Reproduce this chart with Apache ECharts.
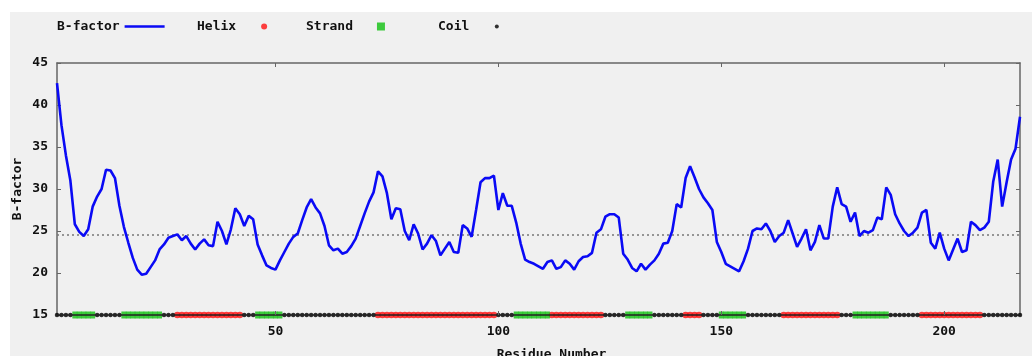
<!DOCTYPE html>
<html>
<head>
<meta charset="utf-8">
<script src="https://cdn.jsdelivr.net/npm/echarts@6/dist/echarts.min.js"></script>
<style>
  html, body { margin: 0; padding: 0; background: #ffffff; }
  #panel { position: absolute; left: 10px; top: 12px; right: 0; bottom: 0; background: #f0f0f0; }
  #chart { position: absolute; left: 0; top: 0; width: 1032px; height: 356px; }
</style>
</head>
<body>
<div id="panel"></div>
<div id="chart"></div>
<script>
// Per-residue B-factor profile (residues 1..217)
const bFactor = [
  42.6, 37.6, 34.0, 31.0, 25.8, 24.9, 24.4, 25.2, 27.9, 29.1,
  30.0, 32.3, 32.2, 31.3, 28.0, 25.5, 23.6, 21.8, 20.4, 19.8,
  19.9, 20.7, 21.5, 22.8, 23.4, 24.2, 24.4, 24.6, 23.9, 24.4,
  23.5, 22.8, 23.5, 24.0, 23.3, 23.2, 26.1, 25.0, 23.4, 25.2,
  27.7, 27.0, 25.6, 26.8, 26.4, 23.4, 22.1, 20.9, 20.6, 20.4,
  21.5, 22.5, 23.5, 24.3, 24.7, 26.3, 27.8, 28.8, 27.8, 27.1,
  25.6, 23.3, 22.7, 22.9, 22.3, 22.5, 23.2, 24.1, 25.6, 27.1,
  28.5, 29.6, 32.1, 31.5, 29.5, 26.4, 27.7, 27.6, 25.0, 23.9,
  25.8, 24.7, 22.8, 23.5, 24.5, 23.8, 22.1, 22.9, 23.7, 22.5,
  22.4, 25.7, 25.3, 24.3, 27.5, 30.8, 31.3, 31.3, 31.6, 27.5,
  29.5, 28.0, 28.0, 26.0, 23.5, 21.6, 21.3, 21.1, 20.8, 20.5,
  21.3, 21.5, 20.5, 20.7, 21.5, 21.1, 20.4, 21.4, 21.9, 22.0,
  22.4, 24.8, 25.2, 26.7, 27.0, 27.0, 26.6, 22.3, 21.6, 20.6,
  20.2, 21.1, 20.4, 21.0, 21.5, 22.3, 23.5, 23.6, 25.0, 28.2,
  27.8, 31.3, 32.7, 31.4, 30.0, 29.0, 28.3, 27.5, 23.7, 22.5,
  21.1, 20.8, 20.5, 20.2, 21.4, 22.9, 25.0, 25.3, 25.2, 25.9,
  25.0, 23.7, 24.4, 24.8, 26.3, 24.7, 23.1, 24.1, 25.2, 22.7,
  23.7, 25.7, 24.1, 24.1, 27.9, 30.2, 28.2, 27.9, 26.1, 27.2,
  24.4, 25.0, 24.8, 25.1, 26.6, 26.4, 30.2, 29.3, 27.0, 25.9,
  25.0, 24.4, 24.8, 25.4, 27.2, 27.5, 23.6, 22.9, 24.8, 22.9,
  21.5, 22.8, 24.1, 22.5, 22.7, 26.1, 25.7, 25.1, 25.4, 26.1,
  30.9, 33.5, 27.9, 30.8, 33.5, 34.8, 38.6
];

// Average B-factor (dotted reference line)
const meanBFactor = 24.6;

// Secondary structure ranges [first residue, last residue]
const helixSegments = [[28, 42], [73, 99], [112, 123], [142, 145], [164, 176], [195, 208]];
const strandSegments = [[5, 9], [16, 24], [46, 51], [104, 111], [129, 134], [150, 155], [180, 187]];

// Axis ticks
const residueTicks = [50, 100, 150, 200];
const residueRange = [1, 217];
const bRange = [15, 45];

const inRanges = (r, segs) => segs.some(([a, b]) => r >= a && r <= b);

const lineData = bFactor.map((v, i) => [i + 1, v]);
const helixPts = [], strandPts = [], coilPts = [];
for (let r = 1; r <= bFactor.length; r++) {
  if (inRanges(r, helixSegments)) helixPts.push([r, bRange[0]]);
  else if (inRanges(r, strandSegments)) strandPts.push([r, bRange[0]]);
  else coilPts.push([r, bRange[0]]);
}

const FONT = 'DejaVu Sans Mono';
const txt = { fontFamily: FONT, fontWeight: 'bold', fontSize: 13, color: '#111' };
const frame = { show: true, lineStyle: { color: '#666', width: 1.5 } };
const SQUARE = 'path://M0,0 L8,0 L8,8 L0,8 Z';

const legendBase = {
  orient: 'horizontal', align: 'right', top: 20, selectedMode: false,
  textStyle: txt, padding: 0
};

const chart = echarts.init(document.getElementById('chart'));
chart.setOption({
  backgroundColor: 'transparent',
  animation: false,
  legend: [
    Object.assign({}, legendBase, {
      left: 57, itemWidth: 40, itemHeight: 2.5, symbolKeepAspect: false,
      data: [{ name: 'B-factor', icon: 'rect' }]
    }),
    Object.assign({}, legendBase, { left: 197, itemWidth: 46, itemHeight: 6, data: [{ name: 'Helix', icon: 'circle' }] }),
    Object.assign({}, legendBase, { left: 306, itemWidth: 46, itemHeight: 8, data: [{ name: 'Strand', icon: SQUARE }] }),
    Object.assign({}, legendBase, { left: 438, itemWidth: 45, itemHeight: 4, data: [{ name: 'Coil', icon: 'circle' }] })
  ],
  grid: { left: 57, right: 12, top: 63, bottom: 41, containLabel: false, outerBoundsMode: 'none' },
  xAxis: [
    {
      type: 'value', position: 'bottom', min: residueRange[0], max: residueRange[1], z: 5,
      name: 'Residue Number', nameLocation: 'middle', nameGap: 33, nameMoveOverlap: false,
      nameTextStyle: Object.assign({}, txt, { padding: [0, 0, 0, 26] }),
      axisLine: { show: true, onZero: false, lineStyle: { color: '#222', width: 1.5 } },
      axisTick: { show: true, inside: true, length: 4, customValues: residueTicks, lineStyle: { color: '#666' } },
      axisLabel: Object.assign({}, txt, { margin: 10, customValues: residueTicks }),
      splitLine: { show: false }
    },
    {
      type: 'value', position: 'top', min: residueRange[0], max: residueRange[1],
      axisLine: frame,
      axisTick: { show: true, inside: true, length: 4, customValues: residueTicks, lineStyle: { color: '#666' } },
      axisLabel: { show: false },
      splitLine: { show: false }
    }
  ],
  yAxis: [
    {
      type: 'value', position: 'left', min: bRange[0], max: bRange[1], interval: 5,
      name: 'B-factor', nameLocation: 'middle', nameGap: 33, nameMoveOverlap: false, nameTextStyle: txt,
      axisLine: frame,
      axisTick: { show: true, inside: true, length: 4, lineStyle: { color: '#666' } },
      axisLabel: Object.assign({}, txt, { margin: 9 }),
      splitLine: { show: false }
    },
    {
      type: 'value', position: 'right', min: bRange[0], max: bRange[1], interval: 5,
      axisLine: frame,
      axisTick: { show: true, inside: true, length: 4, lineStyle: { color: '#666' } },
      axisLabel: { show: false },
      splitLine: { show: false }
    }
  ],
  series: [
    {
      name: 'B-factor', type: 'line', data: lineData, symbol: 'none', z: 6,
      lineStyle: { color: '#0a0af5', width: 2.6 }, itemStyle: { color: '#0a0af5' },
      markLine: {
        silent: true, symbol: 'none', label: { show: false },
        lineStyle: { color: '#777', width: 1.5, type: [2, 3] },
        data: [{ yAxis: meanBFactor }]
      }
    },
    {
      name: 'Helix', type: 'scatter', data: helixPts, clip: false, z: 3,
      symbol: 'circle', symbolSize: 6.5, itemStyle: { color: '#ff1010' }
    },
    {
      name: 'Strand', type: 'scatter', data: strandPts, clip: false, z: 3,
      symbol: 'rect', symbolSize: [5, 7], itemStyle: { color: '#10c010' }
    },
    {
      name: 'Coil', type: 'scatter', data: coilPts, clip: false, z: 3,
      symbol: 'circle', symbolSize: 4.5, itemStyle: { color: '#000' }
    }
  ]
});
</script>
</body>
</html>
